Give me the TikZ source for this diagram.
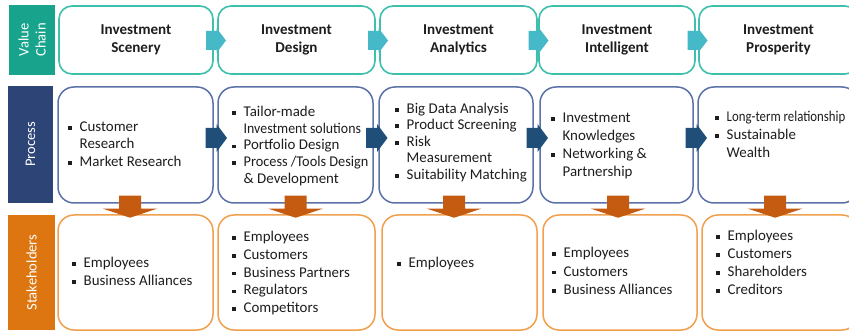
\documentclass[tikz,border=0pt]{standalone}
\usepackage{fontspec}
\setmainfont{Carlito}
\usetikzlibrary{calc}
\definecolor{vcLab}{HTML}{17A38C}
\definecolor{vcLine}{HTML}{3FC0AF}
\definecolor{vcArr}{HTML}{45B9C8}
\definecolor{prLab}{HTML}{2D4477}
\definecolor{prLine}{HTML}{5B72A8}
\definecolor{prArr}{HTML}{1F4E79}
\definecolor{stLab}{HTML}{DD7611}
\definecolor{stLine}{HTML}{F0A04E}
\definecolor{stArr}{HTML}{C55A11}
\definecolor{txt}{HTML}{1E1E1E}
\newcommand{\bx}{\makebox[11.5pt][l]{\rule[1.7pt]{3.6pt}{3.6pt}}}
\tikzset{
  lab/.style={rotate=90, inner sep=0pt, text=white, align=center,
    font=\fontsize{14.6}{17}\selectfont},
  vcbox/.style={draw=vcLine, line width=1.6pt, rounded corners=13pt, fill=white,
    minimum height=68pt, inner sep=0pt, align=center, text=txt,
    font=\bfseries\fontsize{15.1}{17.5}\selectfont},
  prbox/.style={draw=prLine, line width=1.5pt, rounded corners=16pt, fill=white,
    minimum height=116pt, inner sep=0pt},
  stbox/.style={draw=stLine, line width=1.5pt, rounded corners=16pt, fill=white,
    minimum height=115pt, inner sep=0pt},
  tx/.style={anchor=west, inner sep=0pt, text=txt,
    font=\fontsize{14.9}{#1}\selectfont},
  tx/.default=17.5,
  rarrV/.pic={\fill (-9.5,-9.5) -- (1,-9.5) -- (1,-12.5) -- (10.5,0) -- (1,12.5) -- (1,9.5) -- (-9.5,9.5) -- cycle;},
  rarrP/.pic={\fill (-10,-10) -- (1,-10) -- (1,-14) -- (11.5,0) -- (1,14) -- (1,10) -- (-10,10) -- cycle;},
  darr/.pic={\fill (-11,-8) -- (11,-8) -- (11,5) -- (27,5) -- (0,14) -- (-27,5) -- (-11,5) -- cycle;}
}
\begin{document}
\begin{tikzpicture}[x=1pt,y=-1pt]
\path[use as bounding box] (0,0) rectangle (849,331);
\clip (0,0) rectangle (849,331);

% row labels
\node[lab, fill=vcLab, minimum width=70pt, minimum height=46pt] (lv) at (32,40) {Value\\Chain};
\node[lab, fill=prLab, minimum width=117pt, minimum height=45pt] (lp) at (30.5,144.5) {Process};
\node[lab, fill=stLab, minimum width=115pt, minimum height=47pt] (ls) at (31.5,272.5) {Stakeholders};

% value chain boxes
\node[vcbox, minimum width=154pt] (v1) at (136,40) {Investment\\Scenery};
\node[vcbox, minimum width=157pt] (v2) at (296.5,40) {Investment\\Design};
\node[vcbox, minimum width=157pt] (v3) at (458.5,40) {Investment\\Analytics};
\node[vcbox, minimum width=156pt] (v4) at (617,40) {Investment\\Intelligent};
\node[vcbox, minimum width=159pt] (v5) at (778.5,40) {Investment\\Prosperity};

% process boxes
\node[prbox, minimum width=155pt] (p1) at (135.5,145) {};
\node[prbox, minimum width=155pt] (p2) at (295.5,145) {};
\node[prbox, minimum width=154pt] (p3) at (456,145) {};
\node[prbox, minimum width=153pt] (p4) at (616.5,145) {};
\node[prbox, minimum width=160pt] (p5) at (778,145) {};

% stakeholder boxes
\node[stbox, minimum width=155pt] (s1) at (135.5,272.5) {};
\node[stbox, minimum width=157pt] (s2) at (296.5,272.5) {};
\node[stbox, minimum width=155pt] (s3) at (459.5,272.5) {};
\node[stbox, minimum width=154pt] (s4) at (620,272.5) {};
\node[stbox, minimum width=156pt] (s5) at (780,272.5) {};

% value chain arrows
\foreach \a/\b in {v1/v2,v2/v3,v3/v4,v4/v5}
  \pic[fill=vcArr] at ($(\a.east)!0.5!(\b.west)+(0,0.5)$) {rarrV};
% process arrows
\foreach \a/\b in {p1/p2,p2/p3,p3/p4,p4/p5}
  \pic[fill=prArr] at ($(\a.east)!0.5!(\b.west)+(0,-7)$) {rarrP};
% down arrows
\foreach \a/\d in {p1/-5.5,p2/0,p3/-2,p4/1.5,p5/-3}
  \pic[fill=stArr] at ($(\a.south)+(\d,0)$) {darr};

% process texts
\node[tx] (p1t) at (68,145.5) {\begin{tabular}{@{}l@{}l@{}}\bx&Customer\\&Research\\\bx&Market Research\end{tabular}};
\node[tx=16.8] (p2t) at (232,146.5) {\begin{tabular}{@{}l@{}l@{}}\bx&Tailor-made\\&\scalebox{0.93}[1]{Investment solutions}\\\bx&Portfolio Design\\\bx&\scalebox{0.96}[1]{Process /Tools Design}\\&\& Development\end{tabular}};
\node[tx=16.5] (p3t) at (395,143) {\begin{tabular}{@{}l@{}l@{}}\bx&Big Data Analysis\\\bx&Product Screening\\\bx&Risk\\&Measurement\\\bx&Suitability Matching\end{tabular}};
\node[tx=18] (p4t) at (551,146) {\begin{tabular}{@{}l@{}l@{}}\bx&Investment\\&Knowledges\\\bx&Networking \&\\&Partnership\end{tabular}};
\node[tx=18] (p5t) at (715,136) {\begin{tabular}{@{}l@{}l@{}}\bx&\scalebox{0.86}[1]{Long-term relationship}\\\bx&Sustainable\\&Wealth\end{tabular}};

% stakeholder texts
\node[tx=18] (s1t) at (72,273) {\begin{tabular}{@{}l@{}l@{}}\bx&Employees\\\bx&Business Alliances\end{tabular}};
\node[tx=17.8] (s2t) at (232,273.5) {\begin{tabular}{@{}l@{}l@{}}\bx&Employees\\\bx&Customers\\\bx&Business Partners\\\bx&Regulators\\\bx&Competitors\end{tabular}};
\node[tx] (s3t) at (397,264) {\begin{tabular}{@{}l@{}l@{}}\bx&Employees\end{tabular}};
\node[tx=18.5] (s4t) at (552,272.5) {\begin{tabular}{@{}l@{}l@{}}\bx&Employees\\\bx&Customers\\\bx&Business Alliances\end{tabular}};
\node[tx=18] (s5t) at (716,264) {\begin{tabular}{@{}l@{}l@{}}\bx&Employees\\\bx&Customers\\\bx&Shareholders\\\bx&Creditors\end{tabular}};
\end{tikzpicture}
\end{document}
